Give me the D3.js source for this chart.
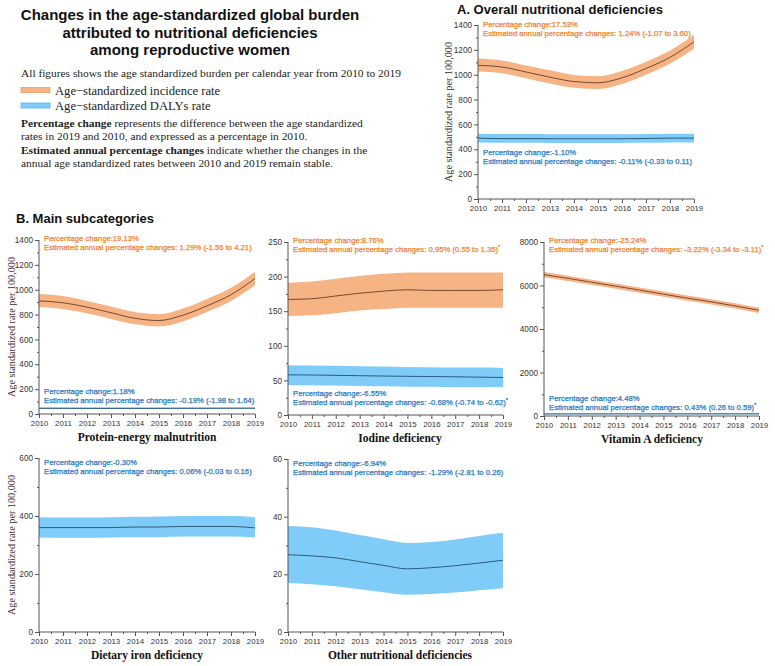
<!DOCTYPE html>
<html><head><meta charset="utf-8">
<script src="https://cdn.jsdelivr.net/npm/d3@7"></script>
<style>body{margin:0;background:#fff}svg{display:block}</style>
</head><body>
<svg id="c" width="775" height="666"></svg>
<script>
// ---------------- DATA ----------------
const years = [2010,2011,2012,2013,2014,2015,2016,2017,2018,2019];

// A. Overall nutritional deficiencies
const overallIncMean = [1075,1062,1022,980,945,935,975,1050,1140,1265];
const overallIncLow  = [1025,1012,972,930,895,885,925,1000,1088,1208];
const overallIncHigh = [1130,1115,1075,1035,998,988,1030,1105,1195,1322];
const overallDalyMean = [490,486,486,485,485,485,485,487,490,490];
const overallDalyLow  = [455,452,452,451,451,451,451,452,455,455];
const overallDalyHigh = [525,522,522,521,521,521,521,523,526,526];

// B1. Protein-energy malnutrition
const pemIncMean = [910,895,860,815,770,752,795,870,960,1090];
const pemIncLow  = [860,845,810,765,722,705,745,820,910,1035];
const pemIncHigh = [965,950,910,865,820,802,848,925,1015,1145];
const pemDalyMean = [46,46,45.5,45.5,45.5,45.5,46,46,46.5,46.5];
const pemDalyLow  = [41,41,40.5,40.5,40.5,40.5,41,41,41.5,41.5];
const pemDalyHigh = [52,52,51.5,51.5,51.5,51.5,52,52,52.5,52.5];

// B2. Iodine deficiency
const iodIncMean = [167,168,172,176,179,181,180,180,180,181];
const iodIncLow  = [143,144,147,151,153,155,155,155,155,155];
const iodIncHigh = [191,193,197,201,204,206,206,206,206,206];
const iodDalyMean = [58.0,57.8,57.3,56.8,56.3,55.9,55.6,55.2,54.7,54.2];
const iodDalyLow  = [43,43,42.5,42,41.5,41,41,40.5,40.5,40];
const iodDalyHigh = [72,71.5,71,70.5,70,69.5,69,68.5,68.5,68];

// B3. Vitamin A deficiency
const vitIncMean = [6500,6330,6150,5970,5790,5600,5420,5250,5060,4860];
const vitIncLow  = [6380,6210,6030,5850,5670,5480,5300,5130,4940,4740];
const vitIncHigh = [6620,6450,6270,6090,5910,5720,5540,5370,5180,4980];
const vitDalyMean = [95,95.5,96,96.5,97,97.5,98,98.5,99,99.3];
const vitDalyLow  = [75,75.5,76,76.5,77,77.5,78,78.5,79,79.3];
const vitDalyHigh = [118,118.5,119,119.5,120,120.5,121,121.5,122,122.3];

// B4. Dietary iron deficiency
const ironDalyMean = [360,360,360,360,362,362,364,364,364,359];
const ironDalyLow  = [326,325,325,326,327,327,329,329,329,326];
const ironDalyHigh = [396,395,395,396,397,398,400,400,400,396];

// B5. Other nutritional deficiencies
const otherDalyMean = [26.8,26.4,25.7,24.4,23.1,21.9,22.3,23.0,23.9,24.9];
const otherDalyLow  = [17.0,16.6,15.9,14.8,13.8,12.9,13.2,13.7,14.5,15.2];
const otherDalyHigh = [36.8,36.3,35.2,33.6,32.2,30.9,31.2,32.1,33.3,34.4];

// Tick values
const yTicksA   = [0,200,400,600,800,1000,1200,1400];
const yTicksPem = [0,200,400,600,800,1000,1200,1400];
const yTicksIod = [0,50,100,150,200,250];
const yTicksVit = [0,2000,4000,6000,8000];
const yTicksIron = [0,200,400,600];
const yTicksOther = [0,20,40,60];

// Annotation texts
const overallIncText = ["Percentage change:17.53%", "Estimated annual percentage changes: 1.24%  (-1.07 to 3.60)", ""];
const overallDalyText = ["Percentage change:-1.10%", "Estimated annual percentage changes: -0.11% (-0.33 to 0.11)", ""];
const pemIncText = ["Percentage change:19.13%", "Estimated annual percentage changes: 1.29% (-1.56 to 4.21)", ""];
const pemDalyText = ["Percentage change:1.18%", "Estimated annual percentage changes: -0.19% (-1.98 to 1.64)", ""];
const iodIncText = ["Percentage change:8.76%", "Estimated annual percentage changes: 0.95%  (0.55 to 1.35)", "*"];
const iodDalyText = ["Percentage change:-6.55%", "Estimated annual percentage changes: -0.68%  (-0.74 to -0.62)", "*"];
const vitIncText = ["Percentage change:-25.24%", "Estimated annual percentage changes: -3.22% (-3.34 to -3.11)", "*"];
const vitDalyText = ["Percentage change:4.48%", "Estimated annual percentage changes: 0.43% (0.26 to 0.59)", "*"];
const ironDalyText = ["Percentage change:-0.30%", "Estimated annual percentage changes: 0.06% (-0.03 to 0.16)", ""];
const otherDalyText = ["Percentage change:-6.94%", "Estimated annual percentage changes: -1.29% (-2.81 to 0.26)", ""];

const titleLines = ["Changes in the age-standardized global burden", "attributed to nutritional deficiencies", "among reproductive women"];
const legendLabels = ["Age\u2212standardized incidence rate", "Age\u2212standardized DALYs rate"];
const yAxisTitle = "Age standardized rate per 100,000";

// ---------------- STYLE ----------------
const ORANGE_FILL = "#F6B383", ORANGE_TEXT = "#F2842F", ORANGE_LINE = "#7A4A32";
const BLUE_FILL = "#80CCF8", BLUE_TEXT = "#2A7AC2", BLUE_LINE = "#2E5A7C";
const AXIS = "#555", TICKTXT = "#333";
const SANS = "'Liberation Sans', Arial, sans-serif";
const SERIF = "'Liberation Serif', 'Times New Roman', serif";

const svg = d3.select("#c");

// ---------------- HEADER ----------------
svg.append("g").selectAll("text").data(titleLines).join("text")
  .attr("x", 190).attr("y", (d,i) => 20 + i*17.5)
  .attr("text-anchor", "middle")
  .attr("font-family", SANS).attr("font-weight", "bold").attr("font-size", 15)
  .attr("fill", "#111").text(d => d);

const body = svg.append("g").attr("font-family", SERIF).attr("font-size", 11.4).attr("fill", "#222");
body.append("text").attr("x", 21).attr("y", 77).text("All figures shows the age standardized burden per calendar year from 2010 to 2019");

const legend = svg.append("g");
[[ORANGE_FILL, "#E9A16F"], [BLUE_FILL, "#5BB5EE"]].forEach((c, i) => {
  legend.append("rect").attr("x", 21).attr("y", 87.5 + i*15.5).attr("width", 29).attr("height", 5)
    .attr("fill", c[0]).attr("stroke", c[1]).attr("stroke-width", 0.8);
  legend.append("text").attr("x", 55).attr("y", 94.5 + i*15.5)
    .attr("font-family", SERIF).attr("font-size", 12.6).attr("fill", "#222").text(legendLabels[i]);
});

function richLine(y, boldPart, rest) {
  const t = body.append("text").attr("x", 21).attr("y", y);
  if (boldPart) t.append("tspan").attr("font-weight", "bold").text(boldPart);
  t.append("tspan").text(rest);
}
richLine(127, "Percentage change", " represents the difference between the age standardized");
richLine(140, "", "rates in 2019 and 2010, and expressed as a percentage in 2010.");
richLine(154, "Estimated annual percentage changes", " indicate whether the changes in the");
richLine(167, "", "annual age standardized rates between 2010 and 2019 remain stable.");

svg.append("text").attr("x", 457).attr("y", 14)
  .attr("font-family", SANS).attr("font-weight", "bold").attr("font-size", 13).attr("fill", "#111")
  .text("A. Overall nutritional deficiencies");
svg.append("text").attr("x", 16).attr("y", 223)
  .attr("font-family", SANS).attr("font-weight", "bold").attr("font-size", 13).attr("fill", "#111")
  .text("B. Main subcategories");

// ---------------- PANELS ----------------
function panel(cfg) {
  const x = d3.scaleLinear().domain([2010, 2019]).range([cfg.x0, cfg.x1]);
  const y = d3.scaleLinear().domain([0, cfg.yMax]).range([cfg.yb, cfg.yt]);
  const g = svg.append("g");

  const area = d3.area().x((d,i) => x(years[i])).y0(d => y(d[0])).y1(d => y(d[1])).curve(d3.curveMonotoneX);
  const line = d3.line().x((d,i) => x(years[i])).y(d => y(d)).curve(d3.curveMonotoneX);

  cfg.series.forEach(s => {
    const band = s.low.map((v,i) => [v, s.high[i]]);
    g.append("path").datum(band).attr("d", area).attr("fill", s.fill);
    g.append("path").datum(s.mean).attr("d", line).attr("fill", "none").attr("stroke", s.line).attr("stroke-width", 1);
  });

  // y axis
  const yMinor = [];
  for (let i = 0; i < cfg.yTicks.length - 1; i++) yMinor.push((cfg.yTicks[i] + cfg.yTicks[i+1]) / 2);
  const ya = g.append("g").attr("transform", `translate(${cfg.x0},0)`)
    .call(d3.axisLeft(y).tickValues(cfg.yTicks).tickSize(4).tickPadding(2).tickFormat(d3.format("d")));
  g.append("g").attr("transform", `translate(${cfg.x0},0)`)
    .call(d3.axisLeft(y).tickValues(yMinor).tickSize(2).tickFormat(""))
    .call(a => a.select(".domain").remove())
    .selectAll("line").attr("stroke", AXIS);
  ya.select(".domain").attr("stroke", AXIS).attr("d", `M0,${cfg.yb}V${cfg.yt}`);
  ya.selectAll("line").attr("stroke", AXIS);
  ya.selectAll("text").attr("font-family", SANS).attr("font-size", 8.2).attr("fill", TICKTXT);

  // x axis
  const xMinor = years.slice(0, -1).map(v => v + 0.5);
  const xa = g.append("g").attr("transform", `translate(0,${cfg.yb})`)
    .call(d3.axisBottom(x).tickValues(years).tickSize(4).tickPadding(2).tickFormat(d3.format("d")));
  g.append("g").attr("transform", `translate(0,${cfg.yb})`)
    .call(d3.axisBottom(x).tickValues(xMinor).tickSize(2).tickFormat(""))
    .call(a => a.select(".domain").remove())
    .selectAll("line").attr("stroke", AXIS);
  xa.select(".domain").attr("stroke", AXIS).attr("d", `M${cfg.x0},0H${cfg.x1}`);
  xa.selectAll("line").attr("stroke", AXIS);
  xa.selectAll("text").attr("font-family", SANS).attr("font-size", 7.8).attr("fill", TICKTXT);

  // axis title
  if (cfg.yTitleX !== undefined) {
    g.append("text").attr("transform", `translate(${cfg.yTitleX},${(cfg.yt + cfg.yb)/2}) rotate(-90)`)
      .attr("text-anchor", "middle").attr("font-family", SERIF).attr("font-size", 10.2).attr("fill", "#3a3330")
      .text(yAxisTitle);
  }
  if (cfg.name) {
    g.append("text").attr("x", cfg.nameX).attr("y", cfg.yb + 27).attr("text-anchor", "middle")
      .attr("font-family", SERIF).attr("font-weight", "bold").attr("font-size", 11.5).attr("fill", "#111")
      .text(cfg.name);
  }

  // annotations
  cfg.notes.forEach(n => {
    [0,1].forEach(k => {
      const t = g.append("text").attr("x", cfg.x0 + 5).attr("y", n.y + k*9.3)
        .attr("font-family", SANS).attr("font-size", 7.7).attr("fill", n.color)
        .attr("stroke", n.color).attr("stroke-width", 0.25).text(n.text[k]);
      if (k === 1 && n.text[2]) t.append("tspan").attr("font-size", 5).attr("dy", -3).text(n.text[2]);
    });
  });
}

panel({x0: 478, x1: 694, yt: 25, yb: 199, yMax: 1400, yTicks: yTicksA, yTitleX: 452,
  series: [
    {low: overallIncLow, high: overallIncHigh, mean: overallIncMean, fill: ORANGE_FILL, line: ORANGE_LINE},
    {low: overallDalyLow, high: overallDalyHigh, mean: overallDalyMean, fill: BLUE_FILL, line: BLUE_LINE}],
  notes: [{y: 27, text: overallIncText, color: ORANGE_TEXT}, {y: 155, text: overallDalyText, color: BLUE_TEXT}]});

panel({x0: 39, x1: 255, yt: 240, yb: 414, yMax: 1400, yTicks: yTicksPem, yTitleX: 15,
  name: "Protein-energy malnutrition", nameX: 147,
  series: [
    {low: pemIncLow, high: pemIncHigh, mean: pemIncMean, fill: ORANGE_FILL, line: ORANGE_LINE},
    {low: pemDalyLow, high: pemDalyHigh, mean: pemDalyMean, fill: BLUE_FILL, line: BLUE_LINE}],
  notes: [{y: 241, text: pemIncText, color: ORANGE_TEXT}, {y: 394, text: pemDalyText, color: BLUE_TEXT}]});

panel({x0: 288, x1: 503, yt: 242, yb: 415, yMax: 250, yTicks: yTicksIod,
  name: "Iodine deficiency", nameX: 400,
  series: [
    {low: iodIncLow, high: iodIncHigh, mean: iodIncMean, fill: ORANGE_FILL, line: ORANGE_LINE},
    {low: iodDalyLow, high: iodDalyHigh, mean: iodDalyMean, fill: BLUE_FILL, line: BLUE_LINE}],
  notes: [{y: 243, text: iodIncText, color: ORANGE_TEXT}, {y: 396, text: iodDalyText, color: BLUE_TEXT}]});

panel({x0: 544, x1: 759, yt: 242, yb: 416, yMax: 8000, yTicks: yTicksVit,
  name: "Vitamin A deficiency", nameX: 652,
  series: [
    {low: vitIncLow, high: vitIncHigh, mean: vitIncMean, fill: ORANGE_FILL, line: ORANGE_LINE},
    {low: vitDalyLow, high: vitDalyHigh, mean: vitDalyMean, fill: BLUE_FILL, line: BLUE_LINE}],
  notes: [{y: 243, text: vitIncText, color: ORANGE_TEXT}, {y: 401, text: vitDalyText, color: BLUE_TEXT}]});

panel({x0: 39, x1: 255, yt: 458, yb: 632, yMax: 600, yTicks: yTicksIron, yTitleX: 15,
  name: "Dietary iron deficiency", nameX: 147,
  series: [{low: ironDalyLow, high: ironDalyHigh, mean: ironDalyMean, fill: BLUE_FILL, line: BLUE_LINE}],
  notes: [{y: 465, text: ironDalyText, color: BLUE_TEXT}]});

panel({x0: 288, x1: 503, yt: 459, yb: 632, yMax: 60, yTicks: yTicksOther,
  name: "Other nutritional deficiencies", nameX: 400,
  series: [{low: otherDalyLow, high: otherDalyHigh, mean: otherDalyMean, fill: BLUE_FILL, line: BLUE_LINE}],
  notes: [{y: 466, text: otherDalyText, color: BLUE_TEXT}]});
</script>
</body></html>
